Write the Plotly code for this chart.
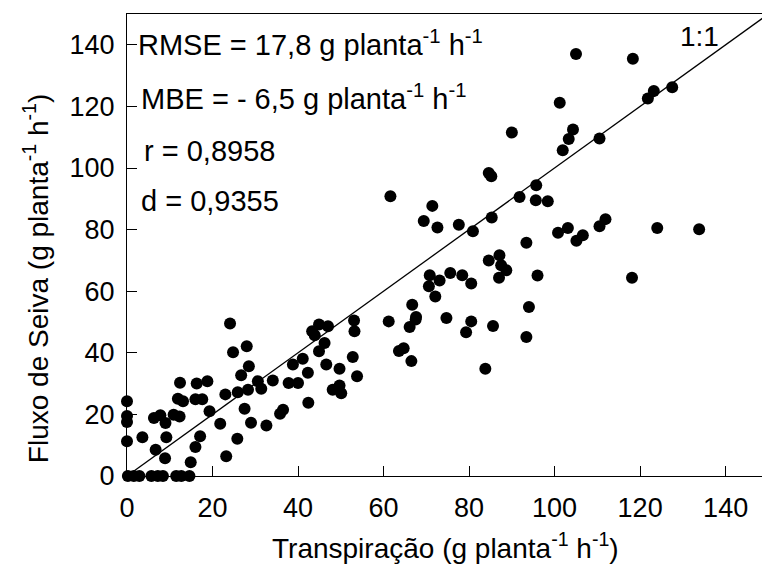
import plotly.graph_objects as go

# Transpiração (x) vs Fluxo de Seiva (y), g planta-1 h-1
transp = [0, 0, 0, 0, 0.2, 1.6, 2.9, 5.7, 7.2, 8.4, 11.5, 12.7, 14.6,
          3.6, 6.7, 6.3, 7.8, 9.0, 9.2, 8.9, 10.9, 12.3, 12.4, 11.9, 13.1,
          14.9, 16.0, 17.1, 16.3, 18.8, 16.0, 17.6, 19.3, 21.8, 23.2, 24.1,
          24.8, 28.0, 23.0, 25.8, 25.9, 26.7, 28.5, 27.5, 29.0, 28.3, 30.6,
          31.4, 32.6,
          34.1, 35.8, 36.5, 37.8, 40.0, 38.8, 41.1, 42.3, 42.4, 43.3, 43.9,
          44.9, 47.0, 46.2, 44.9, 46.6, 49.7, 48.1, 49.7, 50.1, 52.8, 53.8,
          53.1, 53.2, 61.2, 63.6, 64.7,
          61.6, 71.4, 69.4, 72.6, 77.6, 80.9, 85.3, 84.6, 85.2, 91.8, 95.7,
          95.6, 93.4, 84.6, 87.1, 87.5, 88.7, 87.0, 96.0, 70.8, 73.1, 70.6,
          72.1, 75.6, 78.4, 80.5, 66.7, 67.6, 67.5, 66.1, 74.7, 80.5, 79.3,
          85.6, 94.0, 93.4, 66.5, 83.8,
          118.3, 101.2, 104.3, 103.3, 101.9, 110.5, 121.8, 123.2, 127.5,
          98.4, 100.8, 103.1, 105.1, 106.6, 110.5, 111.9, 124.0, 133.8,
          118.1, 105.0, 90.0]
fluxo = [24.3, 19.5, 17.5, 11.3, 0, 0, 0, 0, 0, 0, 0, 0, 0,
         12.6, 8.5, 18.8, 19.7, 17.2, 12.6, 5.8, 19.9, 19.3, 30.3, 25.1, 24.3,
         4.5, 9.4, 12.9, 30.0, 30.8, 24.9, 24.9, 21.0, 17.0, 6.4, 49.5,
         40.2, 42.1, 26.5, 12.1, 27.2, 32.7, 35.6, 21.8, 17.3, 28.0, 30.8,
         28.3, 16.4,
         31.0, 20.2, 21.5, 30.2, 30.2, 36.2, 38.1, 33.5, 23.8, 47.0, 45.7,
         49.2, 48.6, 43.2, 40.5, 36.2, 34.8, 28.0, 29.4, 26.9, 38.6, 32.4,
         50.5, 47.0, 50.2, 40.6, 41.5,
         90.8, 87.7, 82.8, 80.7, 81.6, 79.5, 83.9, 98.4, 97.3, 90.6, 94.4,
         89.5, 75.7, 70.0, 71.7, 68.4, 66.8, 64.4, 65.1, 65.2, 63.5, 61.6,
         58.3, 65.9, 65.2, 62.5, 55.6, 51.6, 50.8, 48.4, 51.3, 50.2, 46.7,
         48.7, 54.9, 45.1, 37.3, 34.8,
         135.5, 121.2, 112.5, 109.4, 105.8, 109.6, 122.6, 125.0, 126.2,
         89.2, 79.0, 80.5, 76.4, 78.2, 81.1, 83.4, 80.5, 80.1,
         64.4, 137.0, 111.5]

line_11 = [0, 150]
tick_vals = [0, 20, 40, 60, 80, 100, 120, 140]
stats_text = ["RMSE = 17,8 g planta<sup>-1</sup> h<sup>-1</sup>",
              "MBE = - 6,5 g planta<sup>-1</sup> h<sup>-1</sup>",
              "r = 0,8958",
              "d = 0,9355"]
stats_x = [2.0, 2.8, 3.4, 2.9]
stats_y = [140.5, 123.0, 105.6, 89.2]

FONT = "Liberation Sans, Arial, sans-serif"

fig = go.Figure()
fig.add_trace(go.Scatter(x=line_11, y=line_11, mode="lines",
                         line=dict(color="black", width=1.3), hoverinfo="skip"))
fig.add_trace(go.Scatter(x=transp, y=fluxo, mode="markers",
                         marker=dict(color="black", size=12, line=dict(width=0)),
                         cliponaxis=False))

ann = []
for t, xx, yy in zip(stats_text, stats_x, stats_y):
    ann.append(dict(x=xx, y=yy, xref="x", yref="y", text=t, showarrow=False,
                    xanchor="left", yanchor="middle",
                    font=dict(family=FONT, size=29, color="black")))
ann.append(dict(x=133.9, y=142.7, xref="x", yref="y", text="1:1", showarrow=False,
                xanchor="center", yanchor="middle",
                font=dict(family=FONT, size=28, color="black")))
ann.append(dict(x=0.502, y=-0.152, xref="paper", yref="paper",
                text="Transpiração (g planta<sup>-1</sup> h<sup>-1</sup>)",
                showarrow=False, xanchor="center", yanchor="middle",
                font=dict(family=FONT, size=28, color="black")))
ann.append(dict(x=-0.143, y=0.4286, xref="paper", yref="paper",
                text="Fluxo de Seiva (g planta<sup>-1</sup> h<sup>-1</sup>)",
                showarrow=False, xanchor="center", yanchor="middle", textangle=-90,
                font=dict(family=FONT, size=28, color="black")))

fig.update_layout(
    width=762, height=577,
    margin=dict(l=127, r=0, t=14, b=101),
    plot_bgcolor="white", paper_bgcolor="white",
    showlegend=False,
    font=dict(family=FONT, size=27, color="black"),
    annotations=ann,
    xaxis=dict(range=[0, 148.5], tickvals=tick_vals, ticks="inside", ticklen=10,
               tickwidth=1, tickcolor="black", showline=True, linecolor="black",
               linewidth=1, mirror=True, showgrid=False, zeroline=False,
               ticklabelstandoff=8, tickfont=dict(family=FONT, size=27)),
    yaxis=dict(range=[0, 150], tickvals=tick_vals, ticks="inside", ticklen=10,
               tickwidth=1, tickcolor="black", showline=True, linecolor="black",
               linewidth=1, mirror=False, showgrid=False, zeroline=False,
               ticklabelstandoff=6, tickfont=dict(family=FONT, size=27)),
)

fig.write_html("out.html")
